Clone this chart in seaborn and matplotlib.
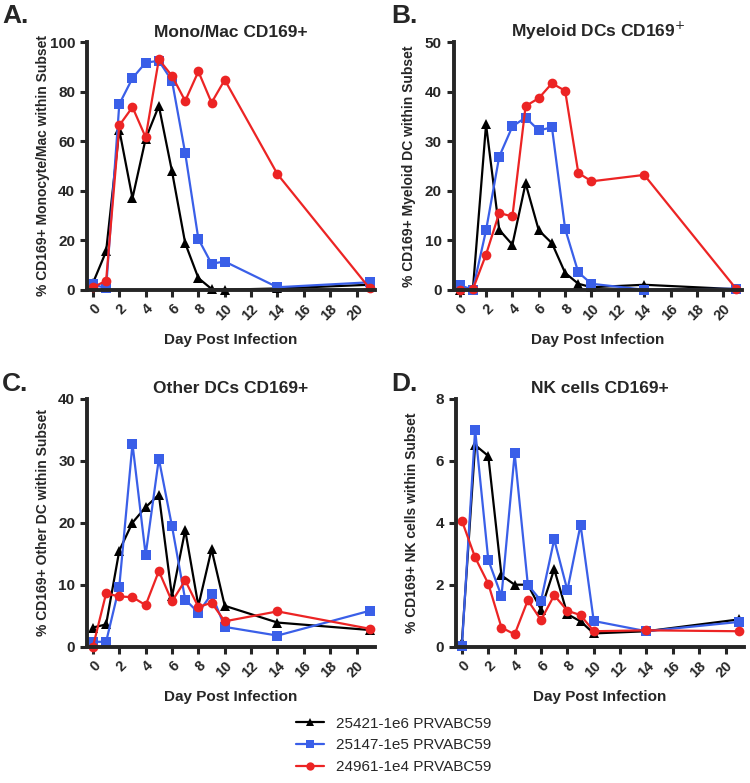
import pandas as pd
import seaborn as sns
import matplotlib.pyplot as plt

# days sampled
days = [0, 1, 2, 3, 4, 5, 6, 7, 8, 9, 10, 14, 21]
animals = ["25421-1e6 PRVABC59", "25147-1e5 PRVABC59", "24961-1e4 PRVABC59"]
colors = ["#000000", "#3a5fe8", "#ec2424"]
marks = ["^", "s", "o"]

# A. Mono/Mac
mono_25421 = [2.7, 15.5, 64.6, 37.0, 61.0, 74.3, 47.8, 18.8, 4.7, 0.3, 0.0, 0.5, 2.0]
mono_25147 = [2.3, 0.5, 75.0, 85.5, 91.8, 92.5, 84.4, 55.2, 20.5, 10.5, 11.4, 1.0, 3.0]
mono_24961 = [1.0, 3.6, 66.4, 73.8, 61.6, 93.1, 86.4, 76.3, 88.2, 75.6, 84.8, 46.7, 0.5]

# B. Myeloid DCs
mdc_25421 = [0.0, 0.0, 33.4, 12.1, 9.1, 21.5, 12.0, 9.4, 3.4, 1.2, 0.5, 1.0, 0.1]
mdc_25147 = [0.9, 0.0, 12.0, 26.9, 33.0, 34.8, 32.2, 32.8, 12.3, 3.5, 1.2, 0.0, 0.2]
mdc_24961 = [0.0, 0.1, 7.1, 15.5, 14.8, 37.1, 38.7, 41.7, 40.2, 23.6, 21.9, 23.2, 0.1]

# C. Other DCs
odc_25421 = [3.1, 3.6, 15.5, 20.0, 22.5, 24.5, 8.1, 18.8, 6.6, 15.7, 6.6, 3.9, 2.7]
odc_25147 = [0.8, 0.8, 9.7, 32.7, 14.8, 30.3, 19.4, 7.6, 5.5, 8.5, 3.2, 1.8, 5.8]
odc_24961 = [0.0, 8.6, 8.1, 8.0, 6.7, 12.2, 7.3, 10.7, 6.4, 7.1, 4.1, 5.7, 2.9]

# D. NK cells
nk_25421 = [0.15, 6.5, 6.15, 2.3, 2.0, 2.0, 1.2, 2.5, 1.05, 0.82, 0.43, 0.5, 0.88]
nk_25147 = [0.03, 7.0, 2.8, 1.63, 6.23, 2.0, 1.48, 3.46, 1.82, 3.93, 0.83, 0.5, 0.8]
nk_24961 = [4.06, 2.88, 2.03, 0.62, 0.4, 1.5, 0.86, 1.66, 1.16, 1.02, 0.5, 0.53, 0.5]

panels = [
    ("A.", "Mono/Mac CD169+", "% CD169+ Monocyte/Mac within Subset",
     [mono_25421, mono_25147, mono_24961], 100, 20),
    ("B.", "Myeloid DCs CD169$^{+}$", "% CD169+ Myeloid DC within Subset",
     [mdc_25421, mdc_25147, mdc_24961], 50, 10),
    ("C.", "Other DCs CD169+", "% CD169+ Other DC within Subset",
     [odc_25421, odc_25147, odc_24961], 40, 10),
    ("D.", "NK cells CD169+", "% CD169+ NK cells within Subset",
     [nk_25421, nk_25147, nk_24961], 8, 2),
]

sns.set_style("ticks")
plt.rcParams["font.family"] = ["Liberation Sans", "DejaVu Sans"]

fig = plt.figure(figsize=(7.5, 7.83), dpi=100)
rects = [[0.116, 0.630, 0.384, 0.316], [0.605, 0.630, 0.384, 0.316],
         [0.116, 0.174, 0.384, 0.317], [0.608, 0.174, 0.384, 0.317]]
letter_pos = [(0.003, 0.98), (0.522, 0.98), (0.003, 0.51), (0.522, 0.51)]

for (letter, title, ylab, series, ymax, ystep), rect, lp in zip(panels, rects, letter_pos):
    ax = fig.add_axes(rect)
    df = pd.DataFrame({
        "day": days * 3,
        "pct": series[0] + series[1] + series[2],
        "animal": sum([[a] * len(days) for a in animals], []),
    })
    sns.lineplot(data=df, x="day", y="pct", hue="animal", style="animal",
                 hue_order=animals, style_order=animals,
                 palette=dict(zip(animals, colors)), markers=dict(zip(animals, marks)),
                 dashes=False, markersize=7, markeredgewidth=0, linewidth=1.6,
                 clip_on=False, legend=False, ax=ax)
    ax.set_xlim(-0.45, 21.4)
    ax.set_ylim(0, ymax)
    ax.set_xticks(range(0, 21, 2))
    ax.set_yticks(range(0, ymax + 1, ystep))
    ax.set_xticklabels([str(d) for d in range(0, 21, 2)], rotation=45, ha="right",
                       rotation_mode="anchor", fontweight="bold", fontsize=10.5)
    ax.set_yticklabels([str(v) for v in range(0, ymax + 1, ystep)],
                       fontweight="bold", fontsize=11)
    ax.tick_params(width=2.2, length=5, direction="out")
    for s in ["left", "bottom"]:
        ax.spines[s].set_linewidth(2.8)
    sns.despine(ax=ax)
    ax.set_title(title, fontweight="bold", fontsize=12.5, pad=4)
    ax.set_ylabel(ylab, fontweight="bold", fontsize=10)
    ax.set_xlabel("Day Post Infection", fontweight="bold", fontsize=11)
    ax.yaxis.set_label_coords(-0.13, 0.5)
    ax.xaxis.set_label_coords(0.5, -0.175)
    fig.text(lp[0], lp[1], letter, fontweight="bold", fontsize=19, va="center", ha="left")

handles = [plt.Line2D([], [], color=c, marker=m, markersize=6, markeredgewidth=0, linewidth=1.6)
           for c, m in zip(colors, marks)]
fig.legend(handles, animals, loc="center", bbox_to_anchor=(0.525, 0.048), frameon=False,
           fontsize=11, handlelength=1.8, labelspacing=0.5)

fig.savefig("out.png", dpi=100)
